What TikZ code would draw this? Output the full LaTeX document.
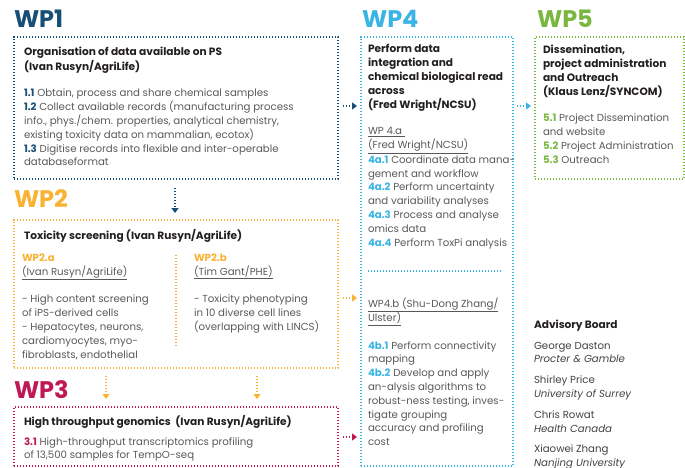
\documentclass[tikz,border=0pt]{standalone}
\usepackage{fontspec}
\setmainfont{Poppins}
\usetikzlibrary{arrows.meta,calc}
\definecolor{wpblue}{RGB}{23,78,117}
\definecolor{wporange}{RGB}{249,178,51}
\definecolor{wpred}{RGB}{190,25,85}
\definecolor{wpcyan}{RGB}{58,180,229}
\definecolor{wpgreen}{RGB}{122,183,64}
\definecolor{bodygray}{RGB}{88,89,91}
\definecolor{headdark}{RGB}{35,31,32}
\newcommand{\num}[2]{\textcolor{#1}{\bfseries #2}}
% stacked lines whose reference point is the first baseline
\newcommand{\ml}[1]{\begin{tabular}[t]{@{}l@{}}#1\end{tabular}}
\begin{document}
\begin{tikzpicture}[x=1pt,y=-1pt,
  every node/.style={inner sep=0pt, outer sep=0pt},
  dotline/.style={line width=1.2pt, dash pattern=on 1.2pt off 1.8pt},
  box/.style={draw=#1, dotline, rectangle, anchor=north west},
  wptitle/.style={text=#1, font=\fontsize{24}{24}\selectfont\bfseries, anchor=base west},
  body/.style={text=bodygray, font=\fontsize{10.2}{13.8}\selectfont, anchor=base west},
  head/.style={text=headdark, font=\fontsize{10.6}{13.8}\selectfont\bfseries, anchor=base west},
  link/.style={draw=#1, dotline, -{Triangle[length=5pt,width=7pt]}},
]
\useasboundingbox (0,0) rectangle (685,468);

% ---------- work package boxes ----------
\node[box=wpblue,   minimum width=324pt, minimum height=142pt] (wp1) at (14,37) {};
\node[box=wporange, minimum width=324pt, minimum height=148pt] (wp2) at (14,220) {};
\node[box=wpred,    minimum width=324pt, minimum height=59pt]  (wp3) at (14,407) {};
\node[box=wpcyan,   minimum width=152pt, minimum height=429pt] (wp4) at (361,37) {};
\node[box=wpgreen,  minimum width=149pt, minimum height=142pt] (wp5) at (535,37) {};

% ---------- titles ----------
\node[wptitle=wpblue]   (t1) at (14,28)  {WP1};
\node[wptitle=wporange] (t2) at (14,207) {WP2};
\node[wptitle=wpred]    (t3) at (14,398) {WP3};
\node[wptitle=wpcyan]   (t4) at (362,28) {WP4};
\node[wptitle=wpgreen]  (t5) at (537,28) {WP5};

% ---------- WP1 ----------
\node[head] (h1) at (24,56) {\ml{Organisation of data available on PS\\(Ivan Rusyn/AgriLife)}};
\node[body] (b1) at (24,97) {\ml{\num{wpblue}{1.1} Obtain, process and share chemical samples\\
\num{wpblue}{1.2} Collect available records (manufacturing process\\
info., phys./chem. properties, analytical chemistry,\\
existing toxicity data  on mammalian, ecotox)\\
\num{wpblue}{1.3} Digitise records into flexible and inter-operable\\
databaseformat}};

% ---------- WP2 ----------
\node[head] (h2) at (24,239) {Toxicity screening (Ivan Rusyn/AgriLife)};
\node[body] (b2a) at (22,261.5) {\ml{\num{wporange}{WP2.a}\\
\underline{(Ivan Rusyn/AgriLife)}\\[13.8pt]
- High content screening\\
of iPS-derived cells\\
- Hepatocytes, neurons,\\
cardiomyocytes, myo-\\
fibroblasts, endothelial}};
\node[body] (b2b) at (194,261.5) {\ml{\num{wporange}{WP2.b}\\
\underline{(Tim Gant/PHE)}\\[13.8pt]
- Toxicity phenotyping\\
in 10 diverse cell lines\\
(overlapping with LINCS)}};
\draw[draw=wporange, dotline] (176,255) -- (176,346);

% ---------- WP3 ----------
\node[head] (h3) at (24,425) {High throughput genomics\ \ (Ivan Rusyn/AgriLife)};
\node[body] (b3) at (24,445) {\ml{\num{wpred}{3.1} High-throughput transcriptomics profiling\\
of 13,500 samples for TempO-seq}};

% ---------- WP4 ----------
\node[head] (h4) at (368,53) {\ml{Perform data\\integration and\\chemical biological read\\across\\(Fred Wright/NCSU)}};
\node[body] (b4a) at (368,135) {\ml{\underline{WP 4.a\ }\\
\underline{(Fred Wright/NCSU)}\\
\num{wpcyan}{4a.1} Coordinate data mana-\\
gement and workflow\\
\num{wpcyan}{4a.2} Perform uncertainty\\
and variability analyses\\
\num{wpcyan}{4a.3} Process and analyse\\
omics data\\
\num{wpcyan}{4a.4} Perform ToxPi analysis}};
\draw[draw=wpcyan, dotline] (368,271) -- (502,271);
\node[body] (b4b) at (368,307) {\ml{\underline{WP4.b (Shu-Dong Zhang/}\\
\underline{Ulster)}\\[13.8pt]
\num{wpcyan}{4b.1} Perform connectivity\\
mapping\\
\num{wpcyan}{4b.2} Develop and apply\\
an-alysis algorithms to\\
robust-ness testing, inves-\\
tigate grouping\\
accuracy and profiling\\
cost}};

% ---------- WP5 ----------
\node[head] (h5) at (543,54) {\ml{Dissemination,\\project administration\\and Outreach\\(Klaus Lenz/SYNCOM)}};
\node[body] (b5) at (543,122) {\ml{\num{wpgreen}{5.1} Project Dissemination\\
and website\\
\num{wpgreen}{5.2} Project Administration\\
\num{wpgreen}{5.3} Outreach}};

% ---------- advisory board ----------
\node[head] (ab) at (534,328) {Advisory Board};
\node[body, text=headdark!85] (abm) at (534,349) {\ml{George Daston\\\textit{Procter \& Gamble}\\[7pt]
Shirley Price\\\textit{University of Surrey}\\[7pt]
Chris Rowat\\\textit{Health Canada}\\[7pt]
Xiaowei Zhang\\\textit{Nanjing University}}};

% ---------- links between work packages ----------
\draw[link=wpblue]   ($(wp1.south)+(-1,9)$) -- ($(wp2.north)+(-1,-7)$);
\draw[link=wpblue]   ($(wp1.east |- 0,106)+(5,0)$) -- ($(wp4.west |- 0,106)+(-4,0)$);
\draw[link=wporange] ($(wp2.east |- 0,298)+(5,0)$) -- ($(wp4.west |- 0,298)+(-4,0)$);
\draw[link=wpred]    ($(wp3.east |- 0,437)+(5,0)$) -- ($(wp4.west |- 0,437)+(-4,0)$);
\draw[link=wporange] ($(wp2.south west)+(92,8)$) -- ($(wp3.north west)+(92,-8)$);
\draw[link=wporange] ($(wp2.south west)+(243,8)$) -- ($(wp3.north west)+(243,-8)$);
\draw[link=wpcyan]   ($(wp4.east |- 0,106)+(4,0)$) -- ($(wp5.west |- 0,106)+(-4,0)$);
\end{tikzpicture}
\end{document}
